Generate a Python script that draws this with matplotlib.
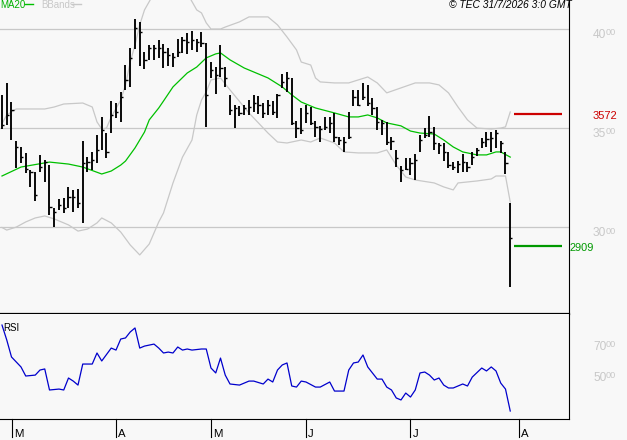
import numpy as np
import matplotlib.pyplot as plt
from matplotlib import transforms

plt.rcParams['font.family'] = ['Liberation Sans', 'DejaVu Sans']

# daily bars (high / low / close)
highs = [3667, 3727, 3631, 3435, 3405, 3375, 3289, 3279, 3365, 3339,
         3314, 3098, 3143, 3148, 3204, 3189, 3194, 3435, 3354, 3380,
         3465, 3556, 3475, 3636, 3626, 3682, 3817, 3903, 4049, 4034,
         3883, 3918, 3918, 3943, 3923, 3903, 3878, 3948, 3958, 3978,
         3988, 3948, 3983, 3928, 3832, 3807, 3918, 3807, 3667, 3616,
         3611, 3616, 3641, 3667, 3662, 3626, 3641, 3636, 3672, 3772,
         3782, 3752, 3536, 3601, 3616, 3606, 3536, 3511, 3556, 3556,
         3576, 3455, 3455, 3581, 3692, 3692, 3727, 3717, 3651, 3606,
         3541, 3531, 3455, 3390, 3309, 3349, 3349, 3370, 3465, 3500,
         3561, 3506, 3425, 3425, 3380, 3329, 3334, 3370, 3329, 3380,
         3400, 3450, 3480, 3480, 3490, 3435, 3380, 3123]
lows = [3496, 3516, 3440, 3299, 3324, 3274, 3204, 3133, 3279, 3229,
        3063, 3002, 3088, 3073, 3098, 3078, 3098, 3023, 3279, 3289,
        3324, 3390, 3349, 3475, 3551, 3531, 3692, 3707, 3898, 3812,
        3797, 3843, 3843, 3853, 3802, 3812, 3807, 3858, 3878, 3873,
        3893, 3883, 3908, 3506, 3752, 3672, 3757, 3707, 3566, 3501,
        3561, 3566, 3566, 3581, 3571, 3551, 3566, 3566, 3551, 3702,
        3682, 3516, 3450, 3470, 3526, 3516, 3455, 3430, 3490, 3475,
        3430, 3415, 3380, 3445, 3611, 3611, 3641, 3611, 3566, 3490,
        3465, 3415, 3390, 3304, 3229, 3289, 3264, 3239, 3380, 3450,
        3455, 3390, 3370, 3334, 3299, 3289, 3274, 3279, 3279, 3314,
        3360, 3400, 3405, 3380, 3400, 3375, 3269, 2701]
closes = [3516, 3566, 3591, 3405, 3354, 3294, 3279, 3163, 3304, 3329,
          3103, 3078, 3113, 3098, 3153, 3153, 3123, 3324, 3329, 3339,
          3390, 3490, 3380, 3566, 3581, 3657, 3742, 3853, 4003, 3983,
          3843, 3903, 3903, 3903, 3883, 3868, 3858, 3883, 3943, 3933,
          3943, 3933, 3928, 3667, 3792, 3767, 3802, 3752, 3591, 3601,
          3576, 3601, 3606, 3626, 3616, 3576, 3616, 3581, 3667, 3732,
          3752, 3526, 3501, 3490, 3576, 3526, 3506, 3496, 3506, 3526,
          3455, 3440, 3430, 3455, 3657, 3616, 3657, 3626, 3601, 3531,
          3526, 3430, 3435, 3349, 3289, 3294, 3324, 3339, 3440, 3465,
          3480, 3425, 3415, 3380, 3314, 3304, 3319, 3329, 3304, 3354,
          3390, 3430, 3445, 3450, 3475, 3425, 3324, 2947]

# MA20 and Bollinger bands, read at bar indices
ma_idx = [0, 4, 10, 14, 17, 21, 23, 25, 26, 28, 30, 31, 33, 34, 36, 39, 41, 43, 45, 46,
          48, 51, 53, 56, 59, 61, 63, 66, 70, 73, 75, 77, 79, 81, 84, 86, 88, 91, 93, 95,
          97, 100, 102, 104, 105, 107]
ma_val = [3259, 3304, 3329, 3319, 3304, 3269, 3284, 3314, 3334, 3400, 3480, 3541, 3601, 3636,
          3707, 3777, 3807, 3853, 3873, 3878, 3843, 3802, 3782, 3752, 3707, 3667, 3631, 3601,
          3576, 3556, 3556, 3566, 3551, 3526, 3511, 3485, 3475, 3470, 3440, 3405, 3380, 3365,
          3365, 3380, 3380, 3354]

up_idx = [0, 1, 3, 7, 9, 11, 13, 17, 19, 20, 21, 22, 23, 25, 26, 27, 28, 29, 30, 33,
          36, 38, 41, 42, 43, 44, 46, 47, 50, 52, 56, 58, 60, 62, 63, 65, 66, 67, 70, 73,
          75, 77, 79, 81, 84, 87, 90, 92, 94, 96, 98, 100, 103, 105, 106, 107]
up_val = [3521, 3566, 3596, 3596, 3596, 3606, 3621, 3626, 3606, 3531, 3495, 3500, 3556, 3641,
          3717, 3832, 3918, 4019, 4094, 4220, 4270, 4220, 4094, 4079, 4029, 3998, 3998, 4008,
          4034, 4059, 4059, 4019, 3958, 3893, 3832, 3817, 3752, 3732, 3727, 3727, 3742, 3757,
          3727, 3677, 3702, 3727, 3727, 3717, 3677, 3606, 3541, 3500, 3495, 3500, 3506, 3581]

lo_idx = [0, 1, 3, 5, 7, 9, 11, 14, 16, 18, 20, 21, 23, 25, 27, 29, 31, 33, 34, 36,
          38, 40, 41, 42, 43, 44, 46, 48, 52, 56, 58, 60, 63, 65, 67, 70, 72, 75, 79, 81,
          83, 85, 87, 91, 93, 95, 96, 100, 103, 104, 106, 107]
lo_val = [3000, 2987, 3002, 3028, 3048, 3058, 3043, 3013, 2982, 2992, 3023, 3048, 3023, 2977,
          2912, 2862, 2917, 3028, 3073, 3224, 3354, 3440, 3566, 3641, 3682, 3742, 3752, 3692,
          3576, 3475, 3430, 3425, 3440, 3430, 3450, 3425, 3380, 3375, 3375, 3390, 3314, 3254,
          3239, 3224, 3204, 3189, 3224, 3234, 3244, 3259, 3259, 3128]

rsi_idx = [0, 1, 2, 4, 5, 7, 8, 9, 10, 12, 13, 14, 15, 16, 17, 19, 20, 21, 23, 24,
           25, 26, 27, 28, 29, 30, 32, 33, 34, 35, 36, 37, 38, 39, 40, 42, 43, 44, 45, 46,
           47, 48, 50, 52, 53, 55, 56, 57, 58, 59, 60, 61, 62, 63, 64, 66, 67, 69, 70, 72,
           73, 74, 75, 76, 77, 79, 80, 81, 82, 83, 84, 85, 86, 87, 88, 89, 90, 91, 92, 93,
           94, 95, 97, 98, 99, 101, 102, 103, 104, 105, 106, 107]
rsi_val = [80.4, 70.7, 59.6, 53.1, 47.2, 47.8, 51.1, 51.8, 38.1, 38.7, 38.1, 45.9, 43.9, 41.3,
           55.0, 55.0, 62.2, 57.0, 65.4, 64.1, 71.3, 72.0, 75.9, 78.5, 65.4, 66.7, 68.0, 65.4,
           62.2, 62.8, 62.2, 66.1, 64.1, 64.8, 64.1, 64.8, 64.8, 52.4, 49.2, 58.9, 47.8, 42.0,
           41.3, 43.9, 43.9, 42.0, 45.2, 43.3, 51.1, 54.4, 55.7, 40.7, 40.0, 43.9, 43.3, 40.0,
           40.0, 43.3, 37.4, 37.4, 51.1, 55.7, 56.3, 60.9, 53.1, 45.2, 45.2, 40.0, 38.1, 32.9,
           31.6, 36.1, 33.5, 38.1, 49.2, 49.8, 47.8, 44.6, 45.9, 41.3, 39.4, 39.4, 42.0, 40.7,
           46.5, 52.4, 50.5, 53.1, 50.5, 42.6, 38.7, 24.4]

price_grid = [4000, 3500, 3000]
rsi_grid = [70, 50]
resistance = 3572
support = 2909
month_labels = ['M', 'A', 'M', 'J', 'J', 'A']
month_pos = [2.1, 24, 44, 64, 86, 108.8]

BG = '#f8f8f8'
GRID = '#c8c8c8'
W, H = 627, 440


def scale_label(ax, trans, value):
    s = str(value)
    ax.annotate(s[:2], xy=(593 / W, value), xycoords=trans, xytext=(0, -6.4),
                textcoords='offset points', va='baseline', ha='left',
                fontsize=8.6, color=GRID, annotation_clip=False)
    ax.annotate(s[2:] if len(s) > 2 else '00', xy=(605.3 / W, value), xycoords=trans,
                xytext=(0, -4.4), textcoords='offset points', va='baseline', ha='left',
                fontsize=6.6, color=GRID, annotation_clip=False)


def main():
    fig = plt.figure(figsize=(W / 100, H / 100), dpi=100, facecolor=BG)
    n = len(closes)
    xlim = (-0.42, 119.37)

    ax = fig.add_axes([0, 1 - 314 / H, 569 / W, 314 / H])
    ax.set_facecolor(BG)
    ax.set_xlim(*xlim)
    ax.set_ylim(2565, 4144)
    ax.set_xticks([])
    ax.set_yticks([])
    for s in ['top', 'left']:
        ax.spines[s].set_visible(False)
    ax.spines['bottom'].set_linewidth(1.6)
    ax.spines['right'].set_linewidth(0.8)

    for g in price_grid:
        ax.axhline(g, color=GRID, lw=0.9, zorder=0)

    ax.plot(up_idx, up_val, color=GRID, lw=0.9, zorder=1)
    ax.plot(lo_idx, lo_val, color=GRID, lw=0.9, zorder=1)
    ax.plot(ma_idx, ma_val, color='#00c000', lw=0.9, zorder=2)

    idx = np.arange(n)
    ax.vlines(idx, lows, highs, color='black', lw=1.35, zorder=3)
    ax.hlines(closes, idx, idx + 0.45, color='black', lw=1.0, zorder=3)

    ax.hlines(resistance, n - 0.2, n + 9.9, color='#cc0000', lw=1.6)
    ax.hlines(support, n - 0.2, n + 9.9, color='#009900', lw=1.6)

    trans = transforms.blended_transform_factory(fig.transFigure, ax.transData)
    for g in price_grid:
        scale_label(ax, trans, g)
    ax.annotate(str(resistance), xy=(593 / W, resistance), xycoords=trans, xytext=(0, -3.7),
                textcoords='offset points', va='baseline', ha='left',
                fontsize=8, color='#cc0000', annotation_clip=False)
    ax.annotate(str(support), xy=(569.5 / W, support), xycoords=trans, xytext=(0, -3.6),
                textcoords='offset points', va='baseline', ha='left',
                fontsize=7.9, color='#009900', annotation_clip=False)

    # header
    fig.text(0, 1 - 7.5 / H, 'MA20', color='#00b000', fontsize=7, va='baseline')
    fig.add_artist(plt.Line2D([25 / W, 33 / W], [1 - 4.5 / H] * 2, color='#00c000', lw=1.0))
    fig.text(41 / W, 1 - 7.5 / H, 'BBands', color=GRID, fontsize=7, va='baseline')
    fig.add_artist(plt.Line2D([72 / W, 81 / W], [1 - 4.5 / H] * 2, color=GRID, lw=1.0))
    fig.text(510 / W, 1 - 7.7 / H, '\u00a9 TEC 31/7/2026 3:0 GMT', fontsize=7.4,
             style='italic', ha='center', va='baseline')

    # RSI panel
    ax2 = fig.add_axes([0, 1 - 419 / H, 569 / W, 105 / H])
    ax2.set_facecolor(BG)
    ax2.set_xlim(*xlim)
    ax2.set_ylim(19.2, 87.6)
    ax2.set_xticks([])
    ax2.set_yticks([])
    for s in ['top', 'left']:
        ax2.spines[s].set_visible(False)
    ax2.spines['bottom'].set_linewidth(0.8)
    ax2.spines['right'].set_linewidth(0.8)
    ax2.plot(rsi_idx, rsi_val, color='#0000cc', lw=0.9)
    fig.text(3 / W, 1 - 331 / H, 'RSI', fontsize=7, va='baseline')

    trans2 = transforms.blended_transform_factory(fig.transFigure, ax2.transData)
    for g in rsi_grid:
        scale_label(ax2, trans2, g)

    # month ticks under the RSI panel
    tx = transforms.blended_transform_factory(ax2.transData, ax2.transAxes)
    for pos, lab in zip(month_pos, month_labels):
        ax2.plot([pos, pos], [0, -0.175], transform=tx, color='black', lw=0.8, clip_on=False)
        ax2.annotate(lab, xy=(pos, -0.174), xycoords=tx, xytext=(1.6, 0),
                     textcoords='offset points', va='baseline', ha='left',
                     fontsize=8.2, annotation_clip=False)

    fig.savefig('out.png', dpi=100, facecolor=BG)


if __name__ == '__main__':
    main()
